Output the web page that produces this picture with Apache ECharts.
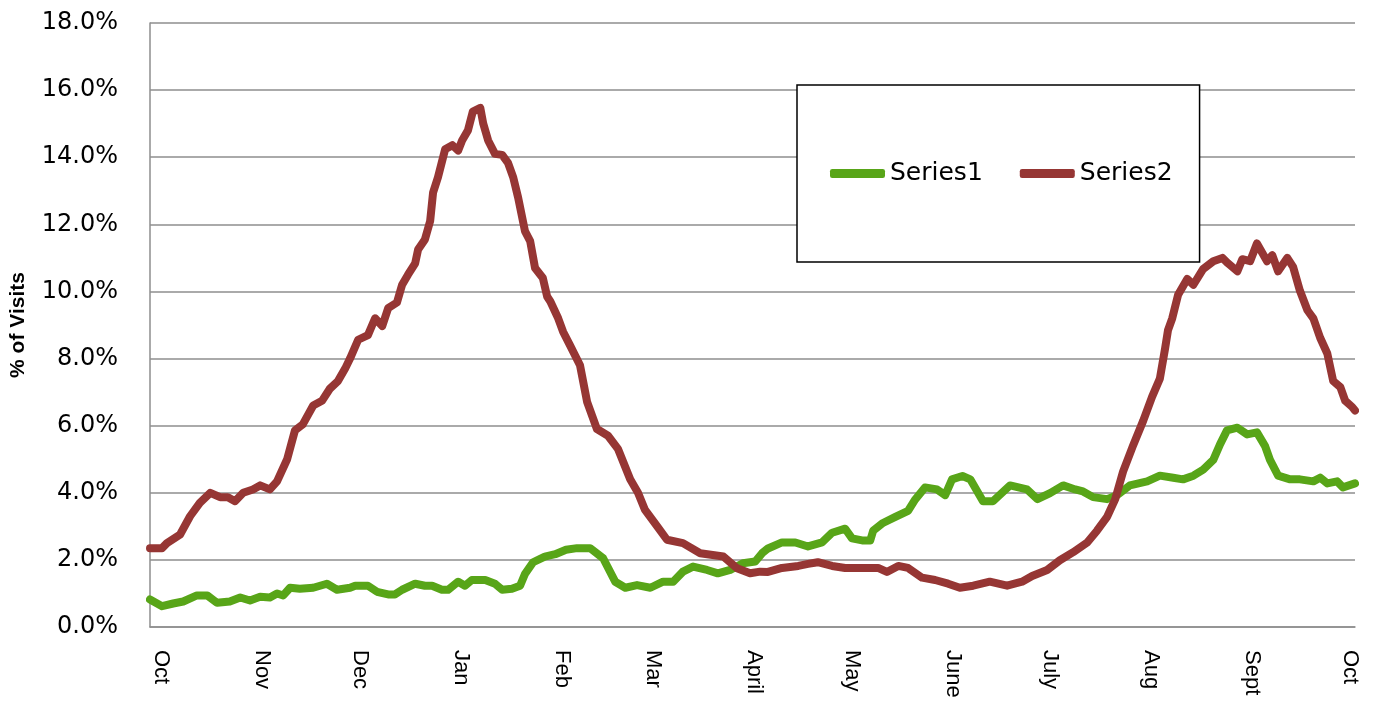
<!DOCTYPE html>
<html>
<head>
<meta charset="utf-8">
<script src="https://cdn.jsdelivr.net/npm/echarts@6/dist/echarts.min.js"></script>
<style>
  html, body { margin: 0; padding: 0; background: #fff; }
  #chart { width: 1379px; height: 709px; }
</style>
</head>
<body>
<div id="chart"></div>
<script>
// month label positions (days from 1 Oct) and names
var monthTicks = [0, 31, 61, 92, 123, 151, 182, 212, 243, 273, 304, 335, 365];
var monthNames = ['Oct', 'Nov', 'Dec', 'Jan', 'Feb', 'Mar', 'April', 'May', 'June', 'July', 'Aug', 'Sept', 'Oct'];

// Series1 (green)
var s1Days = [-3.4, 0.3, 3.7, 6.8, 11.0, 14.2, 17.2, 21.1, 24.3, 27.3, 30.4, 33.4, 35.6, 37.5, 39.6, 42.6, 46.7, 50.9, 54.0, 58.0,
    59.6, 63.5, 66.3, 69.7, 71.8, 74.0, 78.0, 81.0, 83.2, 86.2, 88.1, 91.2, 93.3, 95.4, 99.5, 102.5, 104.7, 107.7, 110.2, 111.7,
    114.2, 117.8, 121.0, 124.3, 127.7, 131.7, 135.7, 139.4, 142.5, 146.1, 150.2, 154.1, 157.2, 160.2, 163.3, 167.6, 170.9, 174.7, 178.6, 182.4,
    184.5, 186.3, 190.6, 194.7, 198.6, 202.9, 206.0, 210.0, 212.1, 215.2, 217.7, 218.6, 221.6, 225.4, 229.3, 231.5, 234.5, 238.2, 240.7, 242.8,
    246.0, 248.4, 252.3, 255.4, 260.6, 265.8, 269.0, 272.9, 276.9, 280.6, 283.0, 286.1, 290.4, 293.5, 297.4, 302.7, 306.6, 310.7, 313.7, 316.9,
    319.9, 323.0, 325.1, 327.2, 330.4, 333.4, 336.4, 338.9, 340.4, 342.9, 346.6, 349.6, 353.7, 355.8, 358.0, 361.0, 362.8, 366.5];
var s1Values = [0.82, 0.62, 0.70, 0.76, 0.94, 0.94, 0.72, 0.76, 0.88, 0.79, 0.90, 0.88, 1.00, 0.94, 1.17, 1.14, 1.17, 1.29, 1.11, 1.17,
    1.23, 1.23, 1.05, 0.97, 0.97, 1.11, 1.29, 1.23, 1.23, 1.11, 1.11, 1.35, 1.23, 1.40, 1.40, 1.29, 1.11, 1.14, 1.23, 1.58,
    1.93, 2.10, 2.17, 2.30, 2.35, 2.35, 2.05, 1.35, 1.17, 1.25, 1.17, 1.35, 1.35, 1.65, 1.80, 1.70, 1.60, 1.70, 1.90, 1.95,
    2.20, 2.34, 2.52, 2.52, 2.40, 2.52, 2.81, 2.93, 2.64, 2.58, 2.58, 2.87, 3.10, 3.28, 3.46, 3.80, 4.16, 4.10, 3.93, 4.40,
    4.50, 4.40, 3.75, 3.75, 4.22, 4.10, 3.81, 3.99, 4.22, 4.10, 4.04, 3.87, 3.81, 3.93, 4.22, 4.34, 4.51, 4.45, 4.40, 4.51,
    4.69, 4.98, 5.45, 5.86, 5.94, 5.74, 5.80, 5.39, 4.98, 4.51, 4.40, 4.40, 4.34, 4.45, 4.28, 4.34, 4.16, 4.28];

// Series2 (red)
var s2Days = [-3.4, 0.3, 1.8, 5.8, 8.9, 11.9, 15.1, 18.1, 20.5, 22.7, 25.2, 28.2, 30.4, 33.4, 35.6, 38.7, 41.1, 43.5, 46.7, 49.4,
    51.8, 54.3, 56.5, 58.0, 60.5, 63.5, 65.7, 67.9, 69.7, 72.4, 74.0, 75.8, 78.0, 78.9, 81.0, 82.6, 83.5, 85.0, 87.2, 89.4,
    91.2, 92.4, 94.2, 95.7, 98.0, 98.9, 100.4, 102.5, 104.7, 106.5, 108.1, 109.6, 111.7, 113.3, 114.8, 117.2, 118.5, 119.5, 121.9, 123.4,
    125.5, 128.6, 130.8, 133.8, 137.2, 140.3, 144.0, 146.4, 148.5, 152.3, 155.3, 160.2, 165.5, 172.6, 176.8, 180.8, 183.9, 186.3, 190.6, 195.6,
    198.6, 201.6, 206.0, 210.0, 215.2, 220.1, 222.8, 226.3, 229.3, 233.6, 237.6, 241.6, 245.2, 249.3, 254.4, 259.7, 264.3, 267.4, 272.0, 275.9,
    280.0, 284.3, 287.3, 290.4, 292.9, 295.3, 298.3, 301.5, 304.2, 306.6, 308.2, 309.1, 310.4, 312.2, 315.0, 316.9, 319.9, 323.0, 325.8, 327.5,
    330.4, 331.9, 334.3, 336.4, 339.5, 341.1, 342.9, 345.7, 347.5, 349.6, 351.9, 353.7, 355.8, 358.0, 359.8, 362.0, 363.5, 365.6, 366.5];
var s2Values = [2.35, 2.35, 2.50, 2.75, 3.30, 3.70, 4.00, 3.87, 3.87, 3.75, 4.00, 4.10, 4.22, 4.10, 4.34, 5.00, 5.86, 6.04, 6.60, 6.74,
    7.10, 7.33, 7.70, 8.00, 8.56, 8.70, 9.20, 8.97, 9.50, 9.67, 10.20, 10.50, 10.84, 11.25, 11.55, 12.10, 12.95, 13.40, 14.24, 14.36,
    14.20, 14.50, 14.80, 15.36, 15.47, 15.00, 14.50, 14.10, 14.07, 13.83, 13.40, 12.80, 11.80, 11.50, 10.70, 10.40, 9.85, 9.70, 9.20, 8.80,
    8.40, 7.80, 6.70, 5.90, 5.70, 5.30, 4.40, 4.00, 3.50, 3.00, 2.60, 2.50, 2.20, 2.10, 1.75, 1.60, 1.65, 1.64, 1.76, 1.82,
    1.88, 1.93, 1.82, 1.76, 1.76, 1.76, 1.64, 1.82, 1.76, 1.47, 1.40, 1.29, 1.17, 1.23, 1.35, 1.23, 1.35, 1.52, 1.70, 1.99,
    2.23, 2.52, 2.87, 3.28, 3.81, 4.63, 5.39, 6.15, 6.86, 7.40, 8.30, 8.85, 9.20, 9.90, 10.37, 10.20, 10.67, 10.90, 11.00, 10.84,
    10.60, 10.96, 10.90, 11.43, 10.90, 11.08, 10.60, 11.00, 10.73, 10.02, 9.44, 9.20, 8.62, 8.15, 7.33, 7.15, 6.74, 6.56, 6.45];

function zip(xs, ys) {
    var out = [];
    for (var i = 0; i < xs.length; i++) {
        out.push([xs[i], ys[i]]);
    }
    return out;
}

var myChart = echarts.init(document.getElementById('chart'));
var option = {
    animation: false,
    backgroundColor: '#fff',
    grid: {
        left: 150,
        right: 24,
        top: 23,
        bottom: 82,
        containLabel: false,
        outerBoundsMode: 'none'
    },
    legend: {
        data: ['Series1', 'Series2'],
        left: 797,
        top: 85,
        padding: [76, 27, 76, 33],
        itemGap: 37,
        itemWidth: 55,
        itemHeight: 9,
        icon: 'roundRect',
        borderColor: '#000',
        borderWidth: 1.5,
        backgroundColor: '#fff',
        z: 10,
        textStyle: {
            fontFamily: 'DejaVu Sans',
            fontSize: 25,
            color: '#000'
        }
    },
    xAxis: {
        type: 'value',
        min: -3.4,
        max: 366.5,
        splitLine: { show: false },
        axisLine: { show: true, onZero: false, lineStyle: { color: '#8e8e8e', width: 1.5 } },
        axisTick: { show: false },
        axisLabel: {
            customValues: monthTicks,
            rotate: -90,
            margin: 23,
            fontFamily: 'Liberation Sans',
            fontSize: 22,
            color: '#000',
            formatter: function (v) {
                var i = monthTicks.indexOf(Math.round(v));
                return i >= 0 ? monthNames[i] : '';
            }
        }
    },
    yAxis: {
        type: 'value',
        min: 0,
        max: 18,
        interval: 2,
        name: '% of Visits',
        nameLocation: 'middle',
        nameGap: 121,
        nameRotate: 90,
        nameTextStyle: {
            fontFamily: 'Liberation Sans',
            fontWeight: 'bold',
            fontSize: 21,
            color: '#000'
        },
        axisLine: { show: true, onZero: false, lineStyle: { color: '#8e8e8e', width: 1.5 } },
        axisTick: { show: false },
        splitLine: { lineStyle: { color: '#8e8e8e', width: 1.5 } },
        axisLabel: {
            margin: 32,
            fontFamily: 'DejaVu Sans',
            fontSize: 24,
            color: '#000',
            formatter: function (v) { return v.toFixed(1) + '%'; }
        }
    },
    series: [
        {
            name: 'Series1',
            type: 'line',
            showSymbol: false,
            color: '#58a518',
            lineStyle: { width: 8, cap: 'round', join: 'round' },
            data: zip(s1Days, s1Values)
        },
        {
            name: 'Series2',
            type: 'line',
            showSymbol: false,
            color: '#963634',
            lineStyle: { width: 8, cap: 'round', join: 'round' },
            data: zip(s2Days, s2Values)
        }
    ]
};
myChart.setOption(option);
</script>
</body>
</html>
